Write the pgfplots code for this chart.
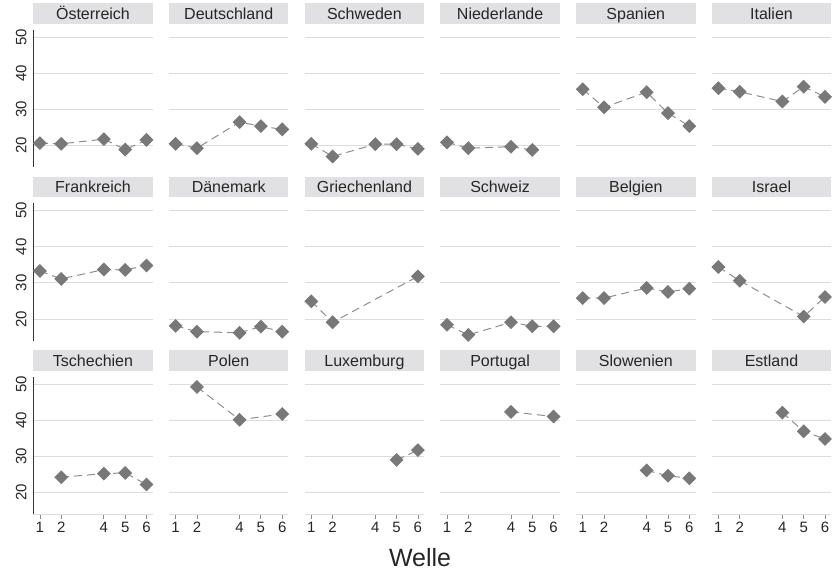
\documentclass[border=0pt]{standalone}
\usepackage{fontspec}
\setmainfont{Liberation Sans}
\usepackage{pgfplots}
\pgfplotsset{compat=1.18}
\usepgfplotslibrary{groupplots}

\definecolor{headgray}{HTML}{E1E1E3}
\definecolor{gridgray}{HTML}{DCDCDC}
\definecolor{markgray}{HTML}{787878}
\definecolor{linegray}{HTML}{8E8E8E}
\definecolor{tickgray}{HTML}{8A8A8A}

\pgfplotsset{
  panel/.style={
    width=119.4pt, height=137.3pt, scale only axis,
    xmin=0.69, xmax=6.29, ymin=14, ymax=52,
    xtick={1,2,4,5,6}, ytick={20,30,40,50},
    axis lines=left, axis line style={-},
    x axis line style={draw=none}, y axis line style={draw=none},
    xtick style={draw=none}, ytick style={draw=none},
    tick align=outside, major tick length=4.7pt,
    ymajorgrids, grid style={color=gridgray, line width=1pt},
    clip=false,
    /pgf/number format/assume math mode=true,
    ticklabel style={font=\fontsize{15}{17}\selectfont, text=black!85},
    yticklabel style={rotate=90, anchor=south, inner sep=2pt},
    xticklabel style={anchor=north, inner sep=3pt},
    title style={at={(0.5,1)}, anchor=south, yshift=0pt, fill=headgray,
      minimum width=119.4pt, minimum height=20.7pt, inner sep=0pt,
      text height=12pt, text depth=0.5pt, font=\fontsize{16}{18}\selectfont,
      text=black!85},
  },
  leftcol/.style={y axis line style={draw=black!80, line width=0.9pt}},
  bottomrow/.style={x axis line style={draw=gridgray, line width=0.9pt},
    xtick style={draw=tickgray, line width=0.8pt}},
  welle/.style={draw=linegray, line width=1pt, dash pattern=on 8pt off 5pt,
    mark=square*, mark size=4.4pt,
    mark options={rotate=45, solid, fill=markgray, draw=markgray}},
}

\begin{document}
\begin{tikzpicture}
\begin{groupplot}[
  group style={group size=6 by 3, horizontal sep=16.3pt, vertical sep=36.1pt,
    xticklabels at=edge bottom, yticklabels at=edge left},
  panel,
]
% row 1
\nextgroupplot[title={Österreich}, leftcol]
\addplot[welle] coordinates {(1,20.7) (2,20.5) (4,21.8) (5,18.9) (6,21.6)};
\nextgroupplot[title={Deutschland}]
\addplot[welle] coordinates {(1,20.5) (2,19.3) (4,26.5) (5,25.4) (6,24.5)};
\nextgroupplot[title={Schweden}]
\addplot[welle] coordinates {(1,20.5) (2,17.0) (4,20.4) (5,20.4) (6,19.1)};
\nextgroupplot[title={Niederlande}]
\addplot[welle] coordinates {(1,20.9) (2,19.3) (4,19.7) (5,18.8)};
\nextgroupplot[title={Spanien}]
\addplot[welle] coordinates {(1,35.6) (2,30.6) (4,34.8) (5,29.0) (6,25.4)};
\nextgroupplot[title={Italien}]
\addplot[welle] coordinates {(1,35.9) (2,34.9) (4,32.2) (5,36.3) (6,33.5)};
% row 2
\nextgroupplot[title={Frankreich}, leftcol]
\addplot[welle] coordinates {(1,33.3) (2,31.1) (4,33.7) (5,33.6) (6,34.8)};
\nextgroupplot[title={Dänemark}]
\addplot[welle] coordinates {(1,18.1) (2,16.5) (4,16.2) (5,17.9) (6,16.5)};
\nextgroupplot[title={Griechenland}]
\addplot[welle] coordinates {(1,24.9) (2,19.1) (6,31.8)};
\nextgroupplot[title={Schweiz}]
\addplot[welle] coordinates {(1,18.4) (2,15.6) (4,19.1) (5,18.0) (6,18.0)};
\nextgroupplot[title={Belgien}]
\addplot[welle] coordinates {(1,25.8) (2,25.8) (4,28.6) (5,27.5) (6,28.4)};
\nextgroupplot[title={Israel}]
\addplot[welle] coordinates {(1,34.4) (2,30.6) (5,20.7) (6,26.1)};
% row 3
\nextgroupplot[title={Tschechien}, leftcol, bottomrow]
\addplot[welle] coordinates {(2,24.2) (4,25.2) (5,25.4) (6,22.2)};
\nextgroupplot[title={Polen}, bottomrow]
\addplot[welle] coordinates {(2,49.2) (4,40.1) (6,41.7)};
\nextgroupplot[title={Luxemburg}, bottomrow,
  xlabel={Welle},
  xlabel style={at={(axis description cs:0.966,0)}, anchor=base,
    yshift=-52.4pt, font=\fontsize{25}{28}\selectfont, text=black!85}]
\addplot[welle] coordinates {(5,29.0) (6,31.7)};
\nextgroupplot[title={Portugal}, bottomrow]
\addplot[welle] coordinates {(4,42.3) (6,41.0)};
\nextgroupplot[title={Slowenien}, bottomrow]
\addplot[welle] coordinates {(4,26.1) (5,24.6) (6,23.9)};
\nextgroupplot[title={Estland}, bottomrow]
\addplot[welle] coordinates {(4,42.1) (5,36.9) (6,34.8)};
\end{groupplot}
\pgfresetboundingbox
\path ([shift={(-33.3pt,30pt)}]group c1r1.north west) rectangle
      ([shift={(798.7pt,-541pt)}]group c1r1.north west);
\end{tikzpicture}
\end{document}
